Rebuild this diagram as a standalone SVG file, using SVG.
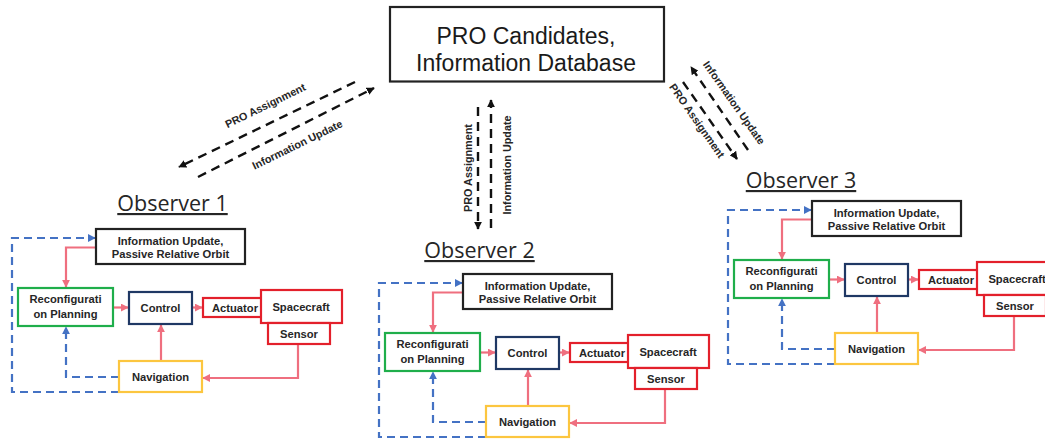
<svg xmlns="http://www.w3.org/2000/svg" width="1045" height="440" viewBox="0 0 1045 440">
<style>
.bg{fill:#fff}
.box{fill:#fff;stroke-width:2.2}
.k{stroke:#222}
.g{stroke:#1fae4b}
.n{stroke:#1f3864}
.r{stroke:#e3202b}
.y{stroke:#fcc63f}
.t{font-family:"Liberation Sans",Arial,sans-serif;font-weight:bold;font-size:11.2px;fill:#262626;text-anchor:middle}
.lbl{font-family:"Liberation Sans",Arial,sans-serif;font-weight:bold;font-size:10.8px;fill:#262626;text-anchor:middle}
.obs{font-family:"Open Sans","Liberation Sans",sans-serif;font-size:21.5px;fill:#262626;text-anchor:middle;text-decoration:underline}
.db{font-family:"Liberation Sans",Arial,sans-serif;font-size:23px;fill:#1a1a1a;text-anchor:middle}
.pk{fill:none;stroke:#ef6f7f;stroke-width:2.2}
.bl{fill:none;stroke:#4472c4;stroke-width:2.2;stroke-dasharray:8 5}
.dk{fill:none;stroke:#111;stroke-width:2.4;stroke-dasharray:9 6}
</style>
<defs>
<marker id="ak" viewBox="0 0 10 10" refX="9" refY="5" markerWidth="8" markerHeight="8" markerUnits="userSpaceOnUse" orient="auto"><path d="M0,0 L10,5 L0,10 z" fill="#111"/></marker>
<marker id="ap" viewBox="0 0 10 10" refX="9" refY="5" markerWidth="8" markerHeight="8" markerUnits="userSpaceOnUse" orient="auto"><path d="M0,0 L10,5 L0,10 z" fill="#ef6f7f"/></marker>
<marker id="ab" viewBox="0 0 10 10" refX="9" refY="5" markerWidth="8" markerHeight="8" markerUnits="userSpaceOnUse" orient="auto"><path d="M0,0 L10,5 L0,10 z" fill="#4472c4"/></marker>
</defs>
<rect class="bg" x="0" y="0" width="1045" height="440"/>

<g id="database">
<rect class="box k" x="390" y="7" width="274" height="74.5"/>
<text class="db" x="526" y="43.5">PRO Candidates,</text>
<text class="db" x="526" y="70.5">Information Database</text>
</g>

<g id="top-connectors">
<path class="dk" d="M355,82 L179,167" marker-end="url(#ak)"/>
<path class="dk" d="M198,177 L374,88" marker-end="url(#ak)"/>
<path class="dk" d="M478,107 L478,229" marker-end="url(#ak)"/>
<path class="dk" d="M491,228 L491,100" marker-end="url(#ak)"/>
<path class="dk" d="M748,150 L691,67" marker-end="url(#ak)"/>
<path class="dk" d="M683,82 L737,159" marker-end="url(#ak)"/>
<text class="lbl" transform="translate(267,109) rotate(-26)">PRO Assignment</text>
<text class="lbl" transform="translate(299,148) rotate(-26)">Information Update</text>
<text class="lbl" transform="translate(472,168) rotate(-90)">PRO Assignment</text>
<text class="lbl" transform="translate(511,165) rotate(-90)">Information Update</text>
<text class="lbl" transform="translate(731,105) rotate(55)">Information Update</text>
<text class="lbl" transform="translate(694,123) rotate(55)">PRO Assignment</text>
</g>

<g id="observer1">
<text class="obs" x="172.5" y="211">Observer 1</text>
<g id="o1-connectors">
<path class="pk" d="M96,247.5 H66 V287" marker-end="url(#ap)"/>
<path class="pk" d="M113,307.5 H128" marker-end="url(#ap)"/>
<path class="pk" d="M192,307.5 H202" marker-end="url(#ap)"/>
<path class="pk" d="M298,344 V378 H203" marker-end="url(#ap)"/>
<path class="pk" d="M161,361 V325" marker-end="url(#ap)"/>
<path class="bl" d="M119,392 H12 V238 H95" marker-end="url(#ab)"/>
<path class="bl" d="M119,377 H66 V327" marker-end="url(#ab)"/>
</g>
<g id="o1-info"><rect class="box k" x="96" y="229" width="149" height="35"/><text class="t" x="170.5" y="245">Information Update,</text><text class="t" x="170.5" y="257.5">Passive Relative Orbit</text></g>
<g id="o1-reconfig"><rect class="box g" x="18" y="288" width="95" height="38"/><text class="t" x="65.5" y="303">Reconfigurati</text><text class="t" x="65.5" y="318">on Planning</text></g>
<g id="o1-control"><rect class="box n" x="129" y="292" width="63" height="32"/><text class="t" x="160.5" y="311.5">Control</text></g>
<g id="o1-actuator"><rect class="box r" x="203" y="298" width="62" height="19"/><text class="t" x="235" y="311.5">Actuator</text></g>
<g id="o1-spacecraft"><rect class="box r" x="261" y="290" width="81" height="33"/><text class="t" x="301" y="310.5">Spacecraft</text></g>
<g id="o1-sensor"><rect class="box r" x="268" y="323" width="62" height="21"/><text class="t" x="299" y="337.5">Sensor</text></g>
<g id="o1-navigation"><rect class="box y" x="119" y="361" width="83" height="31"/><text class="t" x="160.5" y="380.5">Navigation</text></g>
</g>

<g id="observer2">
<text class="obs" x="479.5" y="258">Observer 2</text>
<g transform="translate(367,45)">
<g id="o2-connectors">
<path class="pk" d="M96,247.5 H66 V287" marker-end="url(#ap)"/>
<path class="pk" d="M113,307.5 H128" marker-end="url(#ap)"/>
<path class="pk" d="M192,307.5 H202" marker-end="url(#ap)"/>
<path class="pk" d="M298,344 V378 H203" marker-end="url(#ap)"/>
<path class="pk" d="M161,361 V325" marker-end="url(#ap)"/>
<path class="bl" d="M119,392 H12 V238 H95" marker-end="url(#ab)"/>
<path class="bl" d="M119,377 H66 V327" marker-end="url(#ab)"/>
</g>
<g id="o2-info"><rect class="box k" x="96" y="229" width="149" height="35"/><text class="t" x="170.5" y="245">Information Update,</text><text class="t" x="170.5" y="257.5">Passive Relative Orbit</text></g>
<g id="o2-reconfig"><rect class="box g" x="18" y="288" width="95" height="38"/><text class="t" x="65.5" y="303">Reconfigurati</text><text class="t" x="65.5" y="318">on Planning</text></g>
<g id="o2-control"><rect class="box n" x="129" y="292" width="63" height="32"/><text class="t" x="160.5" y="311.5">Control</text></g>
<g id="o2-actuator"><rect class="box r" x="203" y="298" width="62" height="19"/><text class="t" x="235" y="311.5">Actuator</text></g>
<g id="o2-spacecraft"><rect class="box r" x="261" y="290" width="81" height="33"/><text class="t" x="301" y="310.5">Spacecraft</text></g>
<g id="o2-sensor"><rect class="box r" x="268" y="323" width="62" height="21"/><text class="t" x="299" y="337.5">Sensor</text></g>
<g id="o2-navigation"><rect class="box y" x="119" y="361" width="83" height="31"/><text class="t" x="160.5" y="380.5">Navigation</text></g>
</g>
</g>

<g id="observer3">
<text class="obs" x="801" y="188">Observer 3</text>
<g transform="translate(716,-28)">
<g id="o3-connectors">
<path class="pk" d="M96,247.5 H66 V287" marker-end="url(#ap)"/>
<path class="pk" d="M113,307.5 H128" marker-end="url(#ap)"/>
<path class="pk" d="M192,307.5 H202" marker-end="url(#ap)"/>
<path class="pk" d="M298,344 V378 H203" marker-end="url(#ap)"/>
<path class="pk" d="M161,361 V325" marker-end="url(#ap)"/>
<path class="bl" d="M119,392 H12 V238 H95" marker-end="url(#ab)"/>
<path class="bl" d="M119,377 H66 V327" marker-end="url(#ab)"/>
</g>
<g id="o3-info"><rect class="box k" x="96" y="229" width="149" height="35"/><text class="t" x="170.5" y="245">Information Update,</text><text class="t" x="170.5" y="257.5">Passive Relative Orbit</text></g>
<g id="o3-reconfig"><rect class="box g" x="18" y="288" width="95" height="38"/><text class="t" x="65.5" y="303">Reconfigurati</text><text class="t" x="65.5" y="318">on Planning</text></g>
<g id="o3-control"><rect class="box n" x="129" y="292" width="63" height="32"/><text class="t" x="160.5" y="311.5">Control</text></g>
<g id="o3-actuator"><rect class="box r" x="203" y="298" width="62" height="19"/><text class="t" x="235" y="311.5">Actuator</text></g>
<g id="o3-spacecraft"><rect class="box r" x="261" y="290" width="81" height="33"/><text class="t" x="301" y="310.5">Spacecraft</text></g>
<g id="o3-sensor"><rect class="box r" x="268" y="323" width="62" height="21"/><text class="t" x="299" y="337.5">Sensor</text></g>
<g id="o3-navigation"><rect class="box y" x="119" y="361" width="83" height="31"/><text class="t" x="160.5" y="380.5">Navigation</text></g>
</g>
</g>
</svg>
